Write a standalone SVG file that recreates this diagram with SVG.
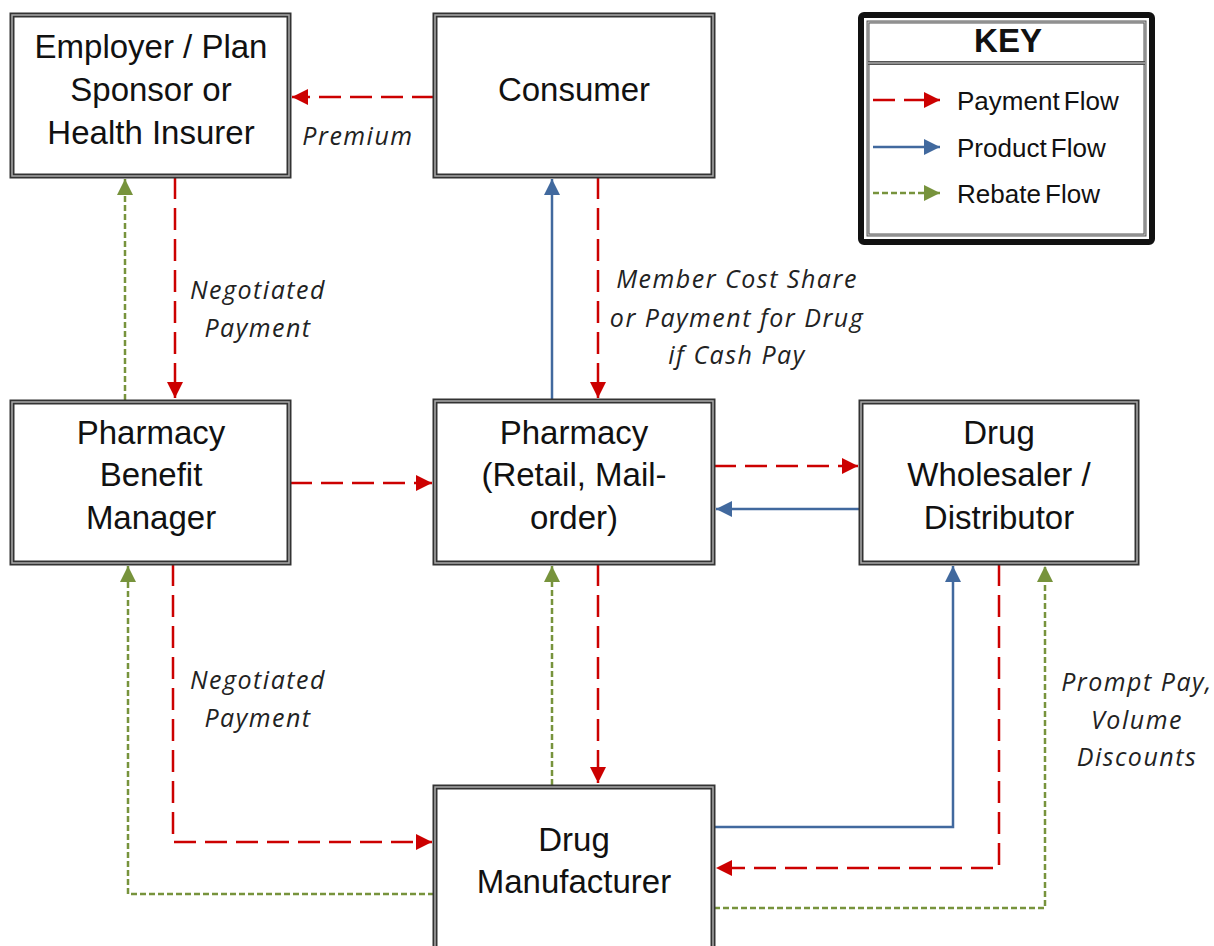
<svg xmlns="http://www.w3.org/2000/svg" width="1214" height="946" viewBox="0 0 1214 946">
<style>
.box{fill:#fff;stroke:#333;stroke-width:5}
.boxi{fill:none;stroke:#aaa;stroke-width:1.5}
.nt{font-family:"Liberation Sans",Arial,sans-serif;font-size:33px;fill:#111;text-anchor:middle}
.lt{font-family:"Open Sans",sans-serif;font-style:italic;font-size:25px;letter-spacing:1.5px;fill:#222;text-anchor:middle}
.kt{font-family:"Liberation Sans",Arial,sans-serif;font-size:26px;word-spacing:-3px;fill:#111}
.pay{fill:none;stroke:#CC0000;stroke-width:2.5;stroke-dasharray:22 9}
.prod{fill:none;stroke:#41699E;stroke-width:2.5}
.reb{fill:none;stroke:#77933C;stroke-width:2.5;stroke-dasharray:6 3}
</style>
<defs>
<marker id="mr" markerUnits="userSpaceOnUse" markerWidth="18" markerHeight="16" refX="16" refY="8" orient="auto"><path d="M0,0 L16,8 L0,16 z" fill="#CC0000"/></marker>
<marker id="mb" markerUnits="userSpaceOnUse" markerWidth="18" markerHeight="16" refX="16" refY="8" orient="auto"><path d="M0,0 L16,8 L0,16 z" fill="#41699E"/></marker>
<marker id="mg" markerUnits="userSpaceOnUse" markerWidth="18" markerHeight="16" refX="16" refY="8" orient="auto"><path d="M0,0 L16,8 L0,16 z" fill="#77933C"/></marker>
</defs>
<rect width="1214" height="946" fill="#fff"/>

<g id="connectors">
<path class="pay" d="M434,97 H292" marker-end="url(#mr)"/>
<path class="pay" d="M175,177 V398" marker-end="url(#mr)"/>
<path class="reb" d="M125,400 V179" marker-end="url(#mg)"/>
<path class="prod" d="M552,400 V179" marker-end="url(#mb)"/>
<path class="pay" d="M598,177 V398" marker-end="url(#mr)"/>
<path class="pay" d="M290,483 H432" marker-end="url(#mr)"/>
<path class="pay" d="M714,466 H858" marker-end="url(#mr)"/>
<path class="prod" d="M860,509 H716" marker-end="url(#mb)"/>
<path class="pay" d="M598,564 V783" marker-end="url(#mr)"/>
<path class="reb" d="M552,785 V566" marker-end="url(#mg)"/>
<path class="pay" d="M173,564 V842 H432" marker-end="url(#mr)"/>
<path class="reb" d="M434,894 H128 V566" marker-end="url(#mg)"/>
<path class="prod" d="M714,827 H953 V566" marker-end="url(#mb)"/>
<path class="pay" d="M999,564 V868 H716" marker-end="url(#mr)"/>
<path class="reb" d="M714,908 H1045 V566" marker-end="url(#mg)"/>
<text class="lt" x="358" y="145">Premium</text>
<text class="lt" x="258" y="299">Negotiated</text>
<text class="lt" x="258" y="337">Payment</text>
<text class="lt" x="737" y="288">Member Cost Share</text>
<text class="lt" x="737" y="327">or Payment for Drug</text>
<text class="lt" x="737" y="364">if Cash Pay</text>
<text class="lt" x="258" y="689">Negotiated</text>
<text class="lt" x="258" y="727">Payment</text>
<text class="lt" x="1137" y="691">Prompt Pay,</text>
<text class="lt" x="1137" y="729">Volume</text>
<text class="lt" x="1137" y="766">Discounts</text>
</g>

<g id="employer">
<rect class="box" x="12" y="15" width="277" height="161"/><rect class="boxi" x="12" y="15" width="277" height="161"/>
<text class="nt" x="151" y="58">Employer / Plan</text>
<text class="nt" x="151" y="101">Sponsor or</text>
<text class="nt" x="151" y="144">Health Insurer</text>
</g>
<g id="consumer">
<rect class="box" x="435" y="15" width="278" height="161"/><rect class="boxi" x="435" y="15" width="278" height="161"/>
<text class="nt" x="574" y="101">Consumer</text>
</g>
<g id="pbm">
<rect class="box" x="12" y="402" width="277" height="161"/><rect class="boxi" x="12" y="402" width="277" height="161"/>
<text class="nt" x="151" y="444">Pharmacy</text>
<text class="nt" x="151" y="486">Benefit</text>
<text class="nt" x="151" y="529">Manager</text>
</g>
<g id="pharmacy">
<rect class="box" x="435" y="401" width="278" height="162"/><rect class="boxi" x="435" y="401" width="278" height="162"/>
<text class="nt" x="574" y="444">Pharmacy</text>
<text class="nt" x="574" y="486">(Retail, Mail-</text>
<text class="nt" x="574" y="529">order)</text>
</g>
<g id="wholesaler">
<rect class="box" x="861" y="402" width="276" height="161"/><rect class="boxi" x="861" y="402" width="276" height="161"/>
<text class="nt" x="999" y="444">Drug</text>
<text class="nt" x="999" y="486">Wholesaler /</text>
<text class="nt" x="999" y="529">Distributor</text>
</g>
<g id="manufacturer">
<rect class="box" x="435" y="787" width="278" height="170"/><rect class="boxi" x="435" y="787" width="278" height="170"/>
<text class="nt" x="574" y="851">Drug</text>
<text class="nt" x="574" y="893">Manufacturer</text>
</g>
<g id="key">
<rect x="861" y="15" width="291" height="227" rx="3" fill="#fff" stroke="#111" stroke-width="6"/>
<rect x="868" y="22" width="277" height="213" fill="none" stroke="#555" stroke-width="3"/>
<rect x="868" y="22" width="277" height="213" fill="none" stroke="#ccc" stroke-width="1"/>
<line x1="868" y1="63" x2="1145" y2="63" stroke="#555" stroke-width="4"/>
<line x1="868" y1="63" x2="1145" y2="63" stroke="#ccc" stroke-width="1.2"/>
<text x="1008" y="52" font-family="Liberation Sans, Arial, sans-serif" font-weight="bold" font-size="33" text-anchor="middle" fill="#111">KEY</text>
<path class="pay" d="M873,100 H940" stroke-dasharray="17 8" marker-end="url(#mr)"/>
<path class="prod" d="M873,147 H940" marker-end="url(#mb)"/>
<path class="reb" d="M873,193 H940" marker-end="url(#mg)"/>
<text class="kt" x="957" y="110">Payment Flow</text>
<text class="kt" x="957" y="157">Product Flow</text>
<text class="kt" x="957" y="203">Rebate Flow</text>
</g>
</svg>
